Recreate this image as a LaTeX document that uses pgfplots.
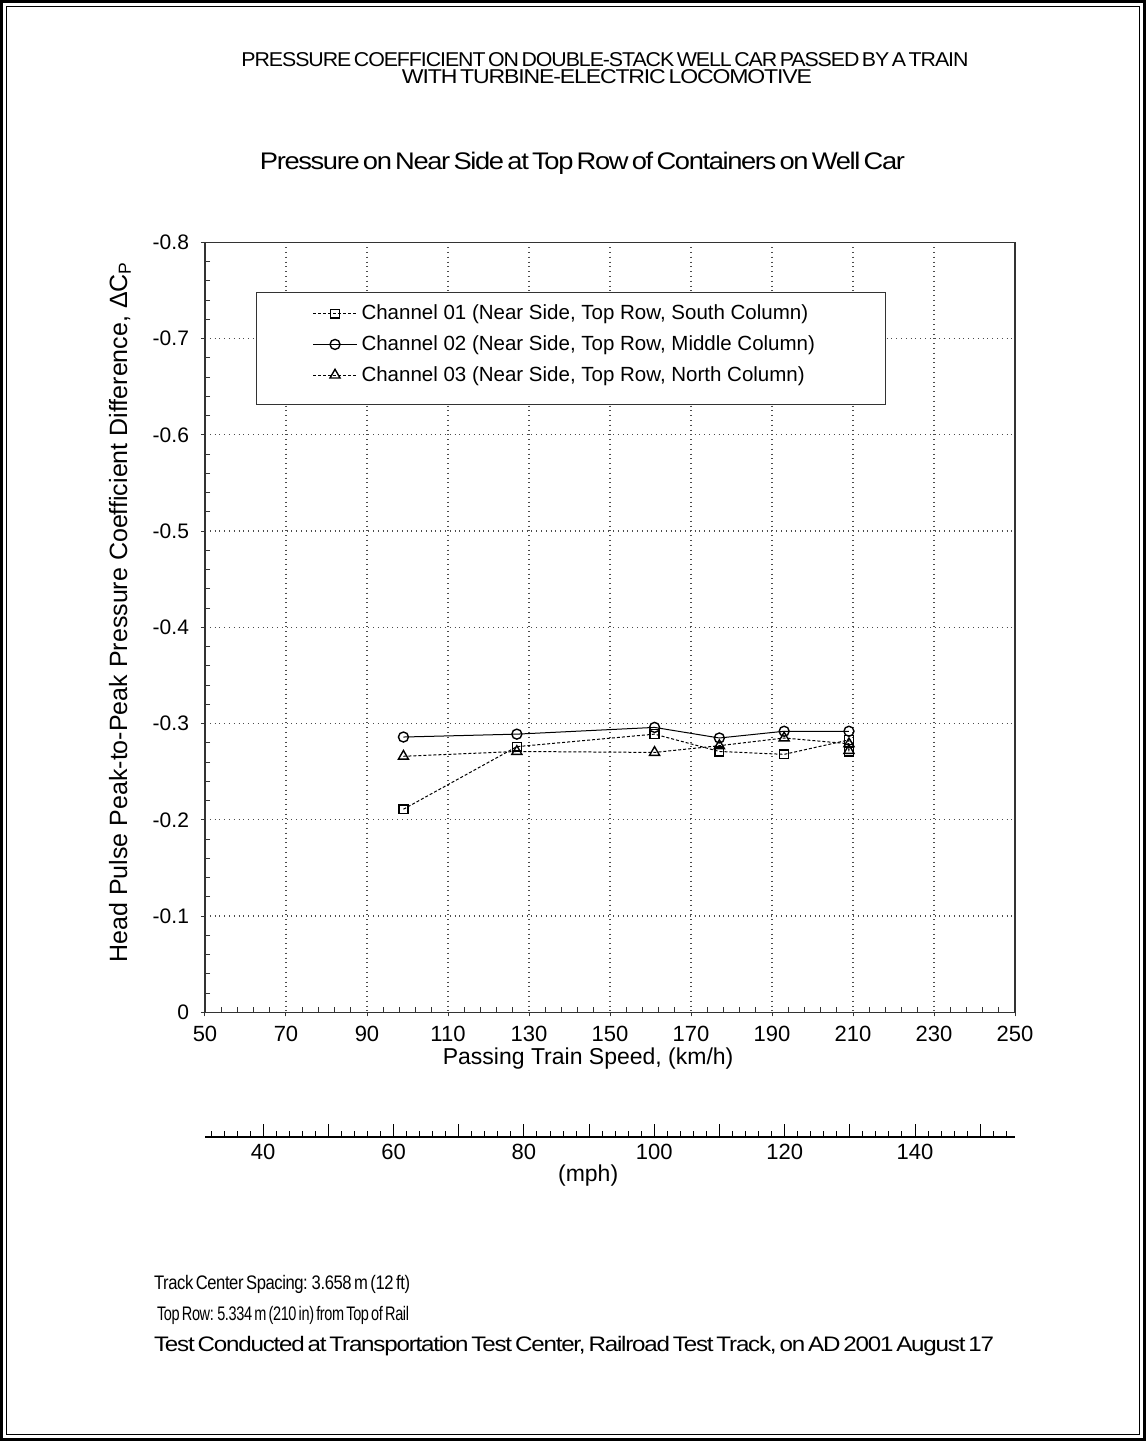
\documentclass[border=0pt]{standalone}
\usepackage{pgfplots}
\pgfplotsset{compat=1.18}
\usepackage{fontspec}
\usepackage{graphicx}
\setmainfont{Liberation Sans}
\newfontfamily\tight{Liberation Sans}[LetterSpace=-5.0]
\newfontfamily\semitight{Liberation Sans}[LetterSpace=-2.5]
\newcommand{\tighttext}[3]{{\fontsize{#1}{#1}\tight\spaceskip=0.12em\relax\resizebox{#2}{\height}{#3}}}
\newcommand{\semitighttext}[3]{{\fontsize{#1}{#1}\semitight\spaceskip=0.15em\relax\resizebox{#2}{\height}{#3}}}
\begin{document}
\begin{tikzpicture}
\useasboundingbox (0,0) rectangle (573pt,720.5pt);
\draw[line width=1.5pt] (0.75pt,0.75pt) rectangle (572.25pt,719.75pt);
\draw[line width=0.5pt] (3.25pt,3.25pt) rectangle (569.75pt,717.25pt);

% titles
\node[anchor=center] at (302.5pt,690.5pt) {\tighttext{10}{363.5pt}{PRESSURE COEFFICIENT ON DOUBLE-STACK WELL CAR PASSED BY A TRAIN}};
\node[anchor=center] at (303.5pt,682pt) {\tighttext{10}{205pt}{WITH TURBINE-ELECTRIC LOCOMOTIVE}};
\node[anchor=center] at (291.25pt,639pt) {\tighttext{12}{322.5pt}{Pressure on Near Side at Top Row of Containers on Well Car}};

% notes
\node[anchor=west] at (73.5pt,78.5pt) {\semitighttext{9.8}{128pt}{Track Center Spacing: 3.658 m (12 ft)}};
\node[anchor=west] at (75pt,63pt) {\semitighttext{9.8}{126pt}{Top Row: 5.334 m (210 in) from Top of Rail}};
\node[anchor=west] at (73.5pt,47.5pt) {\tighttext{10.5}{420pt}{Test Conducted at Transportation Test Center, Railroad Test Track, on AD 2001 August 17}};

\begin{axis}[
  at={(102.5pt,214.35pt)}, anchor=south west,
  width=405pt, height=385pt, scale only axis,
  xmin=50, xmax=250, ymin=-0.8, ymax=0, y dir=reverse,
  xtick={50,70,...,250},
  ytick={-0.8,-0.7,-0.6,-0.5,-0.4,-0.3,-0.2,-0.1,0},
  minor x tick num=4, minor y tick num=4,
  xtick pos=left, ytick pos=left,
  tick align=outside, major tick length=2pt, minor tick length=-2.5pt,
  tick style={black!80, line width=0.5pt},
  grid=major, major grid style={dotted, black!70, line width=0.6pt},
  axis line style={black!80, line width=0.6pt},
  xticklabel style={font=\fontsize{11}{13}\selectfont, yshift=-1.5pt},
  yticklabel style={font=\fontsize{10.5}{13}\selectfont, xshift=-2.5pt, /pgf/number format/fixed,/pgf/number format/precision=1},
  /pgf/number format/assume math mode=true,
  xlabel={Passing Train Speed, (km/h)},
  xlabel style={at={(axis description cs:0.473,-0.0595)}, anchor=center, font=\fontsize{11.5}{13}\selectfont},
  ylabel={Head Pulse Peak-to-Peak Pressure Coefficient Difference, ΔC\textsubscript{P}},
  ylabel style={at={(axis description cs:-0.105,0.52)}, anchor=center, font=\fontsize{12.5}{14}\selectfont},
  legend cell align=left,
  legend style={at={(0.063,0.935)}, anchor=north west, draw=black!80, line width=0.5pt,
     inner xsep=28pt, inner ysep=4pt, row sep=2.4pt, font=\fontsize{10.25}{12}\selectfont},
  legend image code/.code={\draw[mark repeat=2,mark phase=2] plot coordinates {(0pt,0pt)(11pt,0pt)(22pt,0pt)};},
]
\addplot[black, line width=0.5pt, dash pattern=on 1.5pt off 1pt, mark=square, mark size=2.2pt, mark options={solid, line width=0.7pt}]
 coordinates {(99,-0.211)(127,-0.276)(161,-0.289)(177,-0.271)(193,-0.268)(209,-0.283)(209,-0.271)};
\addlegendentry{Channel 01 (Near Side, Top Row, South Column)}
\addplot[black, line width=0.5pt, solid, mark=o, mark size=2.5pt, mark options={solid, line width=0.7pt}]
 coordinates {(99,-0.286)(127,-0.289)(161,-0.296)(177,-0.285)(193,-0.292)(209,-0.292)};
\addlegendentry{Channel 02 (Near Side, Top Row, Middle Column)\hspace*{5pt}}
\addplot[black, line width=0.5pt, dash pattern=on 1.5pt off 1pt, mark=triangle, mark size=2.9pt, mark options={solid, line width=0.7pt}]
 coordinates {(99,-0.266)(127,-0.271)(161,-0.270)(177,-0.277)(193,-0.285)(209,-0.279)(209,-0.272)};
\addlegendentry{Channel 03 (Near Side, Top Row, North Column)}
\addlegendimage{empty legend}
\addlegendentry[inner sep=0pt]{\rule{0pt}{0.5pt}}
\end{axis}

\begin{axis}[
  at={(102.5pt,152pt)}, anchor=south west,
  width=405pt, height=10pt, scale only axis,
  xmin=31.0686, xmax=155.3428, ymin=0, ymax=1,
  axis x line*=bottom, axis y line=none,
  xtick={40,50,...,150},
  xticklabels={40,,60,,80,,100,,120,,140,},
  minor xtick={32,34,...,154},
  tick align=inside, major tick length=6.5pt, minor tick length=3pt,
  tick style={black, line width=0.5pt},
  axis line style={black, line width=0.6pt},
  ticklabel style={font=\fontsize{11}{13}\selectfont},
  /pgf/number format/assume math mode=true,
  xlabel={(mph)},
  xlabel style={at={(axis description cs:0.473,0)}, anchor=center, yshift=-19.5pt, font=\fontsize{11.5}{13}\selectfont},
]
\end{axis}
\end{tikzpicture}
\end{document}
